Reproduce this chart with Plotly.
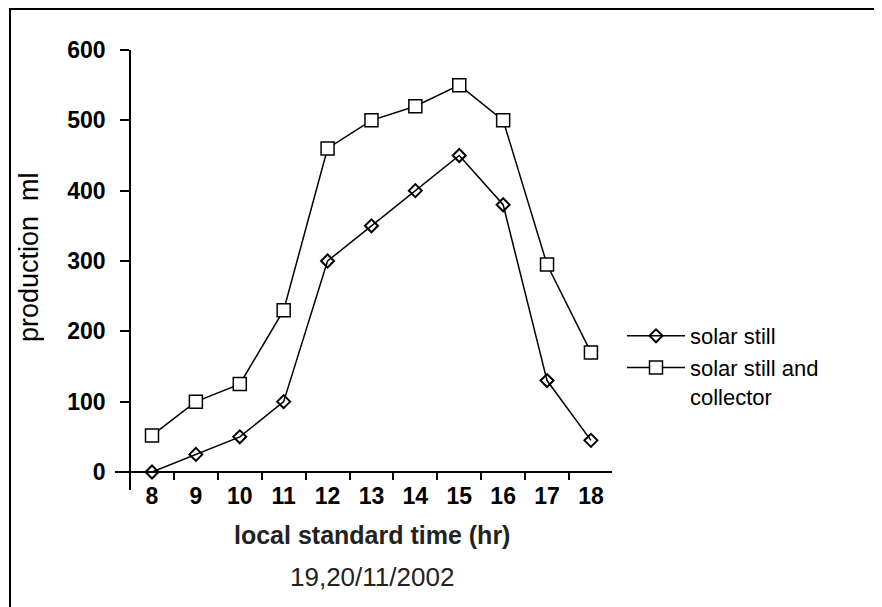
import plotly.graph_objects as go

hours = ["8", "9", "10", "11", "12", "13", "14", "15", "16", "17", "18"]
solar_still = [0, 25, 50, 100, 300, 350, 400, 450, 380, 130, 45]
still_and_collector = [52, 100, 125, 230, 460, 500, 520, 550, 500, 295, 170]
y_ticks = [0, 100, 200, 300, 400, 500, 600]
y_tick_text = ["<b>%d</b>" % v for v in y_ticks]
x_tick_text = ["<b>%s</b>" % h for h in hours]

# page offset (the page places the figure 8px from top-left)
OFF = 8
W, H = 882 - OFF, 607 - OFF
# plot area in screen pixels
L, R, T, B = 115, 612, 50, 490
pw, ph = R - L, B - T

def px(x):
    return (x - L) / pw

def py(y):
    return (B - y) / ph

FONT = "Liberation Sans, Arial, sans-serif"

fig = go.Figure()
fig.add_trace(go.Scatter(
    x=hours, y=solar_still, mode="lines+markers", name="solar still",
    line=dict(color="black", width=1.5),
    marker=dict(symbol="diamond-open", size=10, color="black", line=dict(width=2)),
))
fig.add_trace(go.Scatter(
    x=hours, y=still_and_collector, mode="lines+markers",
    name="solar still and<br>collector",
    line=dict(color="black", width=1.5),
    marker=dict(symbol="square", size=13, color="white", line=dict(width=1.5, color="black")),
))

fig.update_layout(
    width=W, height=H,
    margin=dict(l=L - OFF, r=W - (R - OFF), t=T - OFF, b=H - (B - OFF)),
    paper_bgcolor="white", plot_bgcolor="white",
    font=dict(family=FONT, color="black"),
    showlegend=True,
    legend=dict(x=px(622), y=py(315), xanchor="left", yanchor="top",
                font=dict(size=22, color="black", family=FONT), bgcolor="rgba(0,0,0,0)",
                tracegroupgap=0, valign="top", itemwidth=58),
    xaxis=dict(
        type="category", categoryorder="array", categoryarray=hours,
        tickvals=hours, ticktext=x_tick_text,
        range=[-0.843, 10.48], anchor="free", position=py(472),
        showline=True, linecolor="black", linewidth=2,
        ticks="outside", ticklen=7, tickwidth=1.5, tickcolor="black",
        tickson="boundaries", showgrid=False, zeroline=False,
        ticklabelstandoff=3,
        tickfont=dict(size=23, color="black", family=FONT),
    ),
    yaxis=dict(
        range=[-25.6, 600], anchor="free", position=px(130),
        tickvals=y_ticks, ticktext=y_tick_text,
        showline=True, linecolor="black", linewidth=1.5,
        ticks="outside", ticklen=9, tickwidth=1.5, tickcolor="black",
        showgrid=False, zeroline=False,
        ticklabelstandoff=10,
        tickfont=dict(size=23, color="black", family=FONT),
    ),
)

fig.add_annotation(text="<b>local standard time (hr)</b>", xref="paper", yref="paper",
                   x=px(372), y=py(535), xanchor="center", yanchor="middle", showarrow=False,
                   font=dict(size=25, color="#222", family=FONT))
fig.add_annotation(text="19,20/11/2002", xref="paper", yref="paper",
                   x=px(372), y=py(577), xanchor="center", yanchor="middle", showarrow=False,
                   font=dict(size=26, color="#222", family=FONT))
fig.add_annotation(text="production  ml", xref="paper", yref="paper",
                   x=px(29), y=py(257), xanchor="center", yanchor="middle",
                   showarrow=False, textangle=-90,
                   font=dict(size=27, color="black", family=FONT))

fig.add_shape(type="rect", xref="paper", yref="paper",
              x0=px(10), x1=px(900), y0=py(630), y1=py(9),
              line=dict(color="black", width=2), fillcolor="rgba(0,0,0,0)", layer="below")

fig.write_html("out.html")
